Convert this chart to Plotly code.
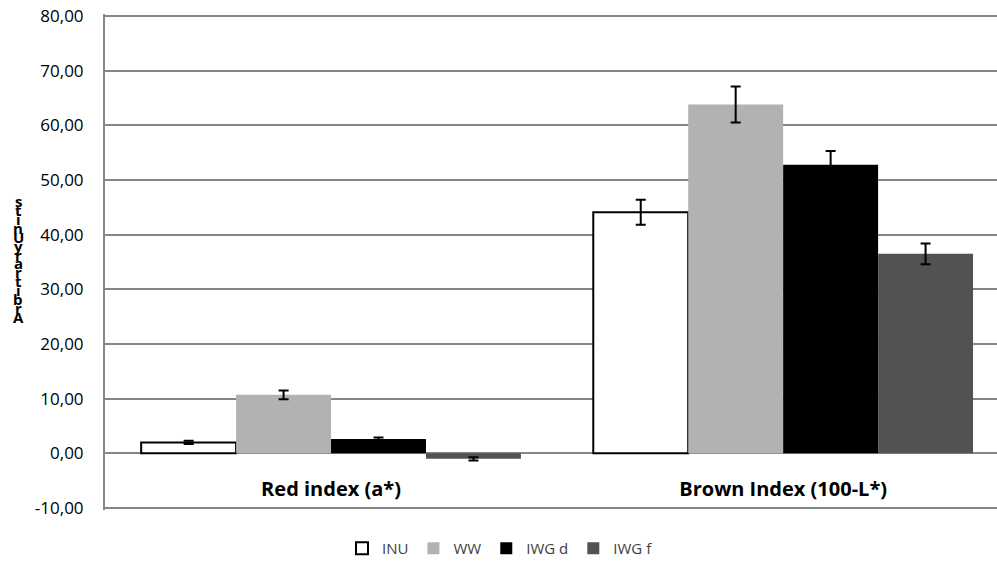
import plotly.graph_objects as go

categories = ["Red index (a*)", "Brown Index (100-L*)"]
series_names = ["INU", "WW", "IWG d", "IWG f"]
values = {
    "INU": [2.0, 44.1],
    "WW": [10.7, 63.8],
    "IWG d": [2.6, 52.8],
    "IWG f": [-1.0, 36.5],
}
errors = {
    "INU": [0.3, 2.3],
    "WW": [0.8, 3.3],
    "IWG d": [0.3, 2.5],
    "IWG f": [0.3, 1.9],
}
fill_colors = {"INU": "#FFFFFF", "WW": "#B2B2B2", "IWG d": "#000000", "IWG f": "#525252"}
y_tick_vals = [-10, 0, 10, 20, 30, 40, 50, 60, 70, 80]
y_tick_text = ["-10,00", "0,00", "10,00", "20,00", "30,00", "40,00", "50,00", "60,00", "70,00", "80,00"]
y_title = "Arbitrary Units"

FONT = "Open Sans"

# plot area in window pixels (page body margin removed below)
OFF = 0
PX_LEFT, PX_RIGHT, PX_TOP, PX_BOT = 105, 997, 14, 511
H = PX_BOT - PX_TOP
W = PX_RIGHT - PX_LEFT
pad_units = 2 / 5.478
y_lo, y_hi = -10 - pad_units, 80 + pad_units

fig = go.Figure()
for name in series_names:
    fig.add_trace(go.Bar(
        name=name,
        x=categories,
        y=values[name],
        marker=dict(color=fill_colors[name],
                    line=dict(color="#000000" if name == "INU" else fill_colors[name],
                              width=2 if name == "INU" else 0)),
        error_y=dict(type="data", array=errors[name], color="#000000", thickness=2, width=5),
    ))

# invisible trace carrying the category labels on an overlay axis placed at y = 0
fig.add_trace(go.Scatter(x=categories, y=[0] * len(categories), xaxis="x2", yaxis="y",
                         mode="markers", marker=dict(opacity=0), showlegend=False,
                         hoverinfo="skip"))

# stacked vertical axis title (letters upright, reading bottom to top)
letters = [c for c in y_title if c != " "]
y_bottom_px = 318.0
step_px = 9.0
for i, ch in enumerate(letters):
    py = y_bottom_px - i * step_px
    fig.add_annotation(
        text=ch, xref="paper", yref="paper",
        x=(18 - PX_LEFT) / W, y=(PX_BOT - py) / H,
        showarrow=False, xanchor="center", yanchor="middle",
        font=dict(family=FONT, size=15, color="#000000", weight="bold"),
    )

fig.update_layout(
    width=997 - OFF, height=565 - OFF,
    margin=dict(l=PX_LEFT - OFF, r=0, t=PX_TOP - OFF, b=565 - PX_BOT),
    paper_bgcolor="white", plot_bgcolor="white",
    barmode="group", bargap=0.16, bargroupgap=0,
    showlegend=True,
    legend=dict(orientation="h", x=(500 - PX_LEFT) / W, xanchor="center",
                y=(PX_BOT - 550) / H, yanchor="middle",
                font=dict(family=FONT, size=15, color="#404040"),
                itemwidth=30, traceorder="normal"),
    font=dict(family=FONT, color="#000000"),
    xaxis=dict(
        type="category", range=[-0.5, 1.473], anchor="y",
        showline=False, showgrid=False, ticks="", showticklabels=False,
        automargin=False,
    ),
    xaxis2=dict(
        type="category", range=[-0.5, 1.473], overlaying="x",
        anchor="free", position=(0 - y_lo) / (y_hi - y_lo),
        showline=False, showgrid=False, ticks="", zeroline=False,
        tickfont=dict(family=FONT, size=20, color="#000000", weight="bold"),
        ticklabelstandoff=22, automargin=False,
    ),
    yaxis=dict(
        range=[y_lo, y_hi], tickmode="array", tickvals=y_tick_vals, ticktext=y_tick_text,
        showgrid=True, gridcolor="#868686", gridwidth=2,
        zeroline=True, zerolinecolor="#868686", zerolinewidth=2,
        showline=True, linecolor="#868686", linewidth=2,
        ticks="outside", ticklen=16, tickcolor="rgba(0,0,0,0)", automargin=False,
        ticklabeloverflow="allow",
        tickfont=dict(family=FONT, size=17, color="#000000"),
    ),
)

fig.write_html("out.html", config={"displayModeBar": False},
               post_script="document.body.style.margin='0';")
